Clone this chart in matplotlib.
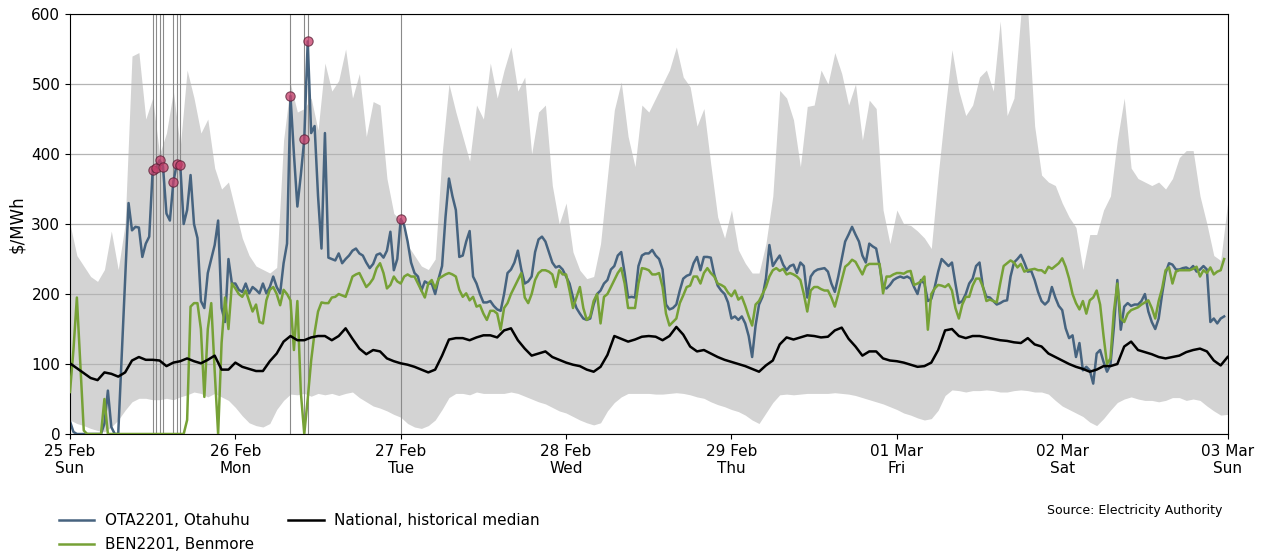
import numpy as np
import pandas as pd
import matplotlib
matplotlib.use("Agg")
import matplotlib.pyplot as plt
import matplotlib.dates as mdates
from matplotlib.lines import Line2D

# Half-hourly final prices ($/MWh), one list of 48 trading periods per day
ota_25feb = [18, 3, 0, 0, 0, 0, 0, 0, 0, 0, 15, 62, 10, 0, 0, 110, 220, 330, 291, 296, 295, 253, 272, 282,
             377, 380, 391, 382, 315, 305, 360, 386, 385, 300, 320, 370, 300, 280, 190, 180, 230, 250, 270, 305, 180, 160, 250, 215]
ota_26feb = [215, 206, 203, 215, 201, 210, 206, 201, 215, 201, 210, 225, 210, 201, 244, 272, 483, 400, 325, 370, 421, 561, 430, 440,
             340, 265, 430, 252, 250, 248, 258, 244, 250, 255, 262, 265, 258, 255, 245, 237, 243, 256, 258, 252, 262, 289, 234, 250]
ota_27feb = [307, 298, 275, 245, 230, 225, 205, 218, 215, 215, 200, 222, 240, 310, 365, 340, 320, 253, 255, 275, 290, 225, 215, 200,
             188, 188, 190, 183, 178, 176, 200, 230, 235, 245, 262, 235, 215, 218, 225, 260, 278, 282, 275, 260, 245, 238, 240, 235]
ota_28feb = [225, 215, 195, 180, 172, 165, 163, 165, 185, 200, 205, 215, 220, 235, 240, 255, 260, 230, 195, 196, 195, 240, 255, 258,
             258, 263, 255, 250, 235, 185, 178, 180, 185, 205, 222, 226, 228, 244, 253, 234, 253, 253, 252, 228, 212, 205, 200, 188]
ota_29feb = [165, 168, 163, 168, 158, 140, 110, 155, 185, 196, 222, 270, 240, 248, 255, 242, 234, 240, 242, 230, 245, 240, 195, 225,
             232, 235, 236, 237, 232, 215, 203, 225, 250, 275, 285, 296, 285, 275, 255, 245, 272, 268, 265, 240, 210, 208, 213, 220]
ota_01mar = [223, 225, 223, 225, 222, 210, 200, 220, 215, 190, 193, 210, 232, 250, 245, 240, 245, 215, 187, 190, 200, 215, 222, 240,
             245, 210, 196, 195, 190, 185, 187, 190, 191, 225, 245, 250, 256, 245, 232, 233, 220, 203, 190, 185, 190, 210, 195, 183]
ota_02mar = [177, 151, 137, 141, 110, 130, 91, 96, 91, 72, 115, 120, 103, 89, 99, 153, 220, 149, 182, 187, 183, 185, 185, 190,
             200, 175, 160, 150, 165, 200, 230, 244, 242, 235, 235, 237, 238, 235, 240, 232, 235, 240, 235, 160, 165, 158, 165, 168]

ben_25feb = [60, 120, 195, 100, 5, 0, 0, 0, 0, 0, 50, 0, 0, 0, 0, 0, 0, 0, 0, 0, 0, 0, 0, 0,
             0, 0, 0, 0, 0, 0, 0, 0, 0, 0, 20, 182, 187, 187, 150, 53, 150, 187, 90, 0, 130, 195, 150, 215]
ben_26feb = [208, 200, 196, 205, 190, 175, 185, 160, 158, 191, 206, 210, 200, 184, 206, 200, 191, 120, 190, 60, 0, 50, 105, 145,
             175, 188, 187, 187, 195, 196, 200, 198, 196, 210, 225, 228, 230, 220, 210, 215, 222, 237, 244, 230, 208, 213, 225, 218]
ben_27feb = [215, 225, 228, 225, 225, 215, 205, 195, 215, 220, 208, 222, 225, 228, 230, 228, 225, 206, 196, 201, 191, 196, 182, 184,
             172, 163, 176, 176, 172, 149, 180, 187, 200, 210, 220, 230, 195, 187, 200, 220, 230, 234, 234, 232, 228, 210, 234, 228]
ben_28feb = [228, 205, 180, 195, 210, 180, 163, 168, 190, 200, 158, 196, 200, 210, 220, 230, 237, 215, 180, 180, 180, 215, 237, 236,
             234, 228, 228, 230, 210, 172, 155, 160, 165, 187, 198, 210, 212, 225, 225, 215, 230, 237, 230, 225, 215, 213, 210, 202]
ben_29feb = [197, 205, 192, 196, 183, 168, 155, 185, 190, 200, 210, 225, 234, 237, 233, 236, 228, 230, 228, 225, 220, 200, 175, 205,
             210, 210, 207, 205, 205, 195, 182, 200, 220, 239, 243, 249, 246, 237, 228, 240, 243, 243, 243, 243, 201, 225, 225, 228]
ben_01mar = [230, 230, 229, 232, 233, 213, 215, 218, 225, 149, 200, 208, 213, 212, 210, 214, 205, 180, 165, 185, 196, 196, 212, 222,
             222, 210, 190, 192, 190, 188, 215, 240, 244, 248, 245, 238, 243, 232, 234, 235, 236, 234, 234, 230, 239, 236, 240, 244]
ben_02mar = [251, 239, 222, 200, 187, 178, 190, 172, 191, 195, 205, 185, 140, 100, 108, 175, 215, 165, 160, 172, 177, 179, 181, 185,
             188, 191, 180, 165, 190, 208, 234, 238, 215, 232, 234, 234, 234, 234, 236, 239, 225, 234, 230, 238, 228, 232, 234, 250]

# Hourly national historical statistics: median and the shaded range
median_hourly = [101, 94, 87, 80, 77, 88, 86, 82, 88, 105, 110, 106, 106, 105, 97, 102, 104, 108, 104, 101, 106, 112, 92, 92,
                 102, 96, 93, 90, 90, 104, 115, 132, 140, 134, 134, 138, 140, 140, 134, 140, 151, 136, 122, 114, 120, 118, 108, 104,
                 101, 99, 96, 92, 88, 92, 112, 135, 137, 137, 134, 138, 141, 141, 138, 148, 151, 134, 122, 112, 115, 118, 110, 106,
                 102, 99, 97, 92, 89, 96, 113, 140, 136, 132, 135, 139, 140, 139, 134, 140, 153, 142, 125, 118, 120, 115, 110, 106,
                 103, 100, 97, 93, 89, 98, 105, 128, 138, 135, 138, 141, 140, 138, 139, 148, 152, 136, 125, 112, 118, 118, 108, 105,
                 104, 102, 99, 96, 97, 102, 120, 148, 150, 140, 137, 140, 140, 138, 136, 134, 133, 131, 130, 137, 128, 125, 115, 110,
                 105, 100, 96, 93, 89, 92, 97, 97, 100, 125, 132, 120, 117, 114, 110, 108, 110, 112, 117, 120, 122, 118, 105, 98,
                 110]
upper_hourly = [300, 255, 240, 225, 218, 235, 290, 235, 300, 540, 545, 450, 480, 400, 430, 490, 410, 520, 480, 430, 450, 380, 350, 360,
                320, 280, 255, 240, 235, 230, 238, 420, 500, 460, 465, 480, 434, 530, 490, 505, 550, 480, 515, 425, 475, 470, 365, 315,
                305, 270, 255, 240, 235, 250, 400, 500, 460, 425, 390, 470, 450, 530, 480, 520, 553, 490, 510, 400, 460, 470, 355, 300,
                330, 260, 234, 222, 225, 272, 368, 463, 503, 425, 382, 470, 460, 480, 500, 520, 553, 510, 496, 440, 465, 385, 310, 280,
                320, 263, 244, 230, 230, 272, 340, 491, 480, 449, 382, 468, 470, 520, 500, 545, 515, 470, 500, 420, 477, 465, 320, 272,
                320, 300, 298, 290, 280, 265, 370, 463, 549, 490, 455, 470, 510, 520, 490, 590, 455, 480, 600, 605, 440, 370, 360, 355,
                330, 310, 295, 235, 285, 285, 320, 340, 420, 480, 380, 365, 360, 355, 360, 350, 365, 395, 405, 405, 340, 300, 255, 248,
                330]
lower_hourly = [20, 15, 12, 8, 5, 3, 10, 20, 34, 46, 51, 51, 49, 49, 51, 49, 53, 56, 60, 58, 53, 58, 53, 48,
                38, 26, 16, 12, 10, 15, 35, 48, 57, 56, 58, 54, 58, 56, 58, 55, 58, 60, 52, 46, 40, 37, 33, 28,
                24, 15, 10, 8, 12, 20, 35, 52, 58, 58, 56, 60, 58, 58, 58, 58, 60, 58, 54, 50, 46, 43, 38, 33,
                30, 25, 20, 16, 13, 16, 33, 45, 53, 58, 58, 58, 58, 57, 57, 58, 59, 58, 56, 53, 51, 46, 42, 39,
                35, 32, 27, 20, 15, 30, 45, 56, 57, 56, 57, 58, 58, 58, 58, 59, 58, 57, 55, 52, 49, 46, 43, 39,
                35, 30, 27, 23, 20, 22, 34, 55, 63, 62, 60, 62, 62, 63, 62, 60, 60, 62, 63, 62, 60, 60, 57, 48,
                40, 35, 30, 25, 17, 12, 22, 34, 45, 50, 53, 50, 48, 48, 46, 48, 52, 52, 48, 50, 48, 40, 33, 27,
                28]

# Trading periods flagged at Otahuhu
flag_times = ["2024-02-25 12:00", "2024-02-25 12:30", "2024-02-25 13:00", "2024-02-25 13:30",
              "2024-02-25 15:00", "2024-02-25 15:30", "2024-02-25 16:00",
              "2024-02-26 08:00", "2024-02-26 10:00", "2024-02-26 10:30", "2024-02-27 00:00"]

t_half = pd.date_range("2024-02-25", periods=336, freq="30min")
t_hour = pd.date_range("2024-02-25", periods=169, freq="h")

ota = pd.Series(np.concatenate([ota_25feb, ota_26feb, ota_27feb, ota_28feb, ota_29feb, ota_01mar, ota_02mar]), index=t_half)
ben = pd.Series(np.concatenate([ben_25feb, ben_26feb, ben_27feb, ben_28feb, ben_29feb, ben_01mar, ben_02mar]), index=t_half)
flags = pd.to_datetime(flag_times)
flag_vals = ota.loc[flags].values

c_ota = "#46637f"
c_ben = "#76a136"

fig = plt.figure(figsize=(12.61, 5.54), dpi=100)
ax = fig.add_axes([0.0555, 0.2166, 0.918, 0.758])

ax.fill_between(t_hour, lower_hourly, upper_hourly, color="#d3d3d3", lw=0, zorder=1)
for t in flags:
    ax.axvline(t, color="#8a8a8a", lw=0.8, zorder=1.6)

ax.plot(t_half, ota, color=c_ota, lw=1.8, zorder=2.5)
ax.plot(t_half, ben, color=c_ben, lw=1.8, zorder=2.6)
ax.plot(t_hour, median_hourly, color="black", lw=1.8, zorder=3)
ax.scatter(flags, flag_vals, s=45, facecolor="#c73e6a", edgecolor="#5a2036",
           linewidth=0.8, alpha=0.75, zorder=4)

ax.set_xlim(t_hour[0], t_hour[-1])
ax.set_ylim(0, 600)
ax.set_yticks(range(0, 601, 100))
ax.yaxis.grid(True, color="#b4b4b4", lw=0.9)
ax.set_axisbelow("line")
ax.xaxis.set_major_locator(mdates.DayLocator())
ax.xaxis.set_major_formatter(mdates.DateFormatter("%d %b\n%a"))
ax.tick_params(labelsize=11)
ax.set_ylabel("\\$/MWh", fontsize=12)

handles = [Line2D([], [], color=c_ota, lw=1.8), Line2D([], [], color=c_ben, lw=1.8),
           Line2D([], [], color="black", lw=1.8)]
labels = ["OTA2201, Otahuhu", "BEN2201, Benmore", "National, historical median"]
fig.legend(handles, labels, loc="upper left", bbox_to_anchor=(0.036, 0.099), ncol=2,
           frameon=False, fontsize=11, handlelength=2.3, handletextpad=0.7,
           columnspacing=2.25, labelspacing=0.6)
fig.text(0.969, 0.079, "Source: Electricity Authority", ha="right", va="center", fontsize=9)

fig.savefig("out.png", dpi=100)
